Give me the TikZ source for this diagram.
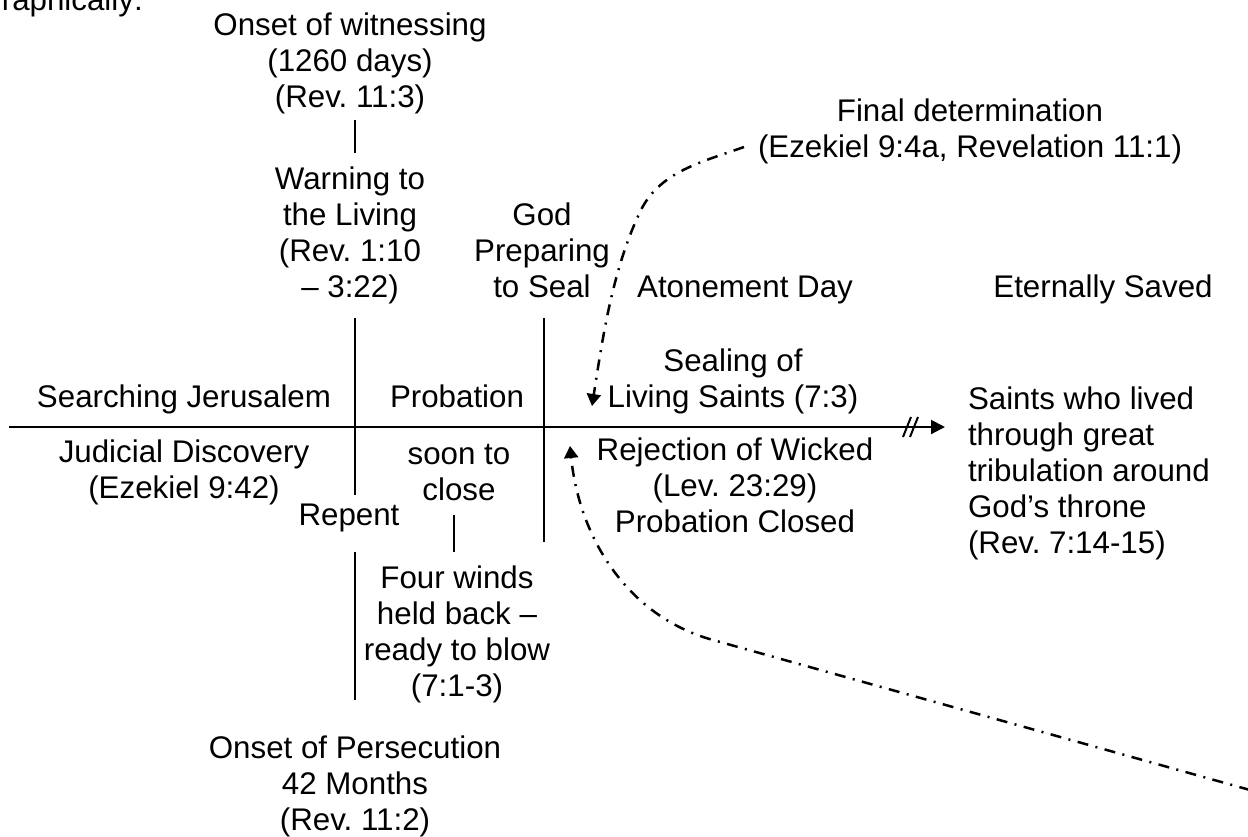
\documentclass[tikz,border=0pt]{standalone}
\usepackage{fontspec}
\setmainfont{Liberation Sans}
\usetikzlibrary{arrows.meta}
\frenchspacing
\begin{document}
\begin{tikzpicture}[x=1pt,y=-1pt,
  lbl/.style={font=\fontsize{31.3}{36}\selectfont\frenchspacing, inner sep=0pt, outer sep=0pt, align=center, anchor=base},
  lblleft/.style={lbl, align=left, anchor=base west},
  rule/.style={line width=2pt},
  dd/.style={line width=2.5pt, dash pattern=on 11pt off 7.5pt on 2pt off 7.5pt, -{Triangle[width=14pt,length=12pt]}}
]
\useasboundingbox (0,0) rectangle (1248,836);

% labels (anchor = baseline of the last line)
\node[lblleft] (graph) at (-22.5,10) {Graphically:};
\node[lbl] (witness) at (350,107) {Onset of witnessing\\(1260 days)\\(Rev. 11:3)};
\node[lbl] (warning) at (350,297) {Warning to\\the Living\\(Rev. 1:10\\– 3:22)};
\node[lbl] (god) at (542,297) {God\\Preparing\\to Seal};
\node[lbl] (atone) at (745,297) {Atonement Day};
\node[lbl] (eternal) at (1103,297) {Eternally Saved};
\node[lbl] (final) at (970,157) {Final determination\\(Ezekiel 9:4a, Revelation 11:1)};
\node[lbl] (sealing) at (733,407) {Sealing of\\Living Saints (7:3)};
\node[lbl] (search) at (184,407) {Searching Jerusalem};
\node[lbl] (probation) at (457,407) {Probation};
\node[lbl] (judicial) at (184,498) {Judicial Discovery\\(Ezekiel 9:42)};
\node[lbl] (soon) at (459,500) {soon to\\close};
\node[lbl] (rejection) at (735,532) {Rejection of Wicked\\(Lev. 23:29)\\Probation Closed};
\node[lblleft] (saints) at (968,553) {Saints who lived\\through great\\tribulation around\\God’s throne\\(Rev. 7:14-15)};
\node[lbl] (repent) at (349,525) {Repent};
\node[lbl] (winds) at (457,696) {Four winds\\held back –\\ready to blow\\(7:1-3)};
\node[lbl] (persec) at (355,830) {Onset of Persecution\\42 Months\\(Rev. 11:2)};

% axis
\coordinate (axL) at (9,427);
\coordinate (axR) at (945,427);
\draw[rule,-{Triangle[width=14pt,length=14pt]}] (axL) -- (axR);
\coordinate (b1a) at (903,437); \coordinate (b1b) at (911,417);
\coordinate (b2a) at (910,437); \coordinate (b2b) at (918,417);
\draw[rule] (b1a) -- (b1b);
\draw[rule] (b2a) -- (b2b);

% vertical rules
\coordinate (v1a) at (355,120); \coordinate (v1b) at (355,153);
\coordinate (v2a) at (355,318); \coordinate (v2b) at (355,495);
\coordinate (v3a) at (355,552); \coordinate (v3b) at (355,700);
\coordinate (v4a) at (544,318); \coordinate (v4b) at (544,542);
\coordinate (v5a) at (454,515); \coordinate (v5b) at (454,552);
\draw[rule] (v1a) -- (v1b);
\draw[rule] (v2a) -- (v2b);
\draw[rule] (v3a) -- (v3b);
\draw[rule] (v4a) -- (v4b);
\draw[rule] (v5a) -- (v5b);

% dash-dot arrows
\coordinate (fdStart) at (744,147);
\coordinate (fdMid) at (640,212);
\coordinate (fdEnd) at (592,406);
\draw[dd] (fdStart) .. controls (702,162) and (659,171.5) .. (fdMid)
  .. controls (612,270.5) and (602,342) .. (fdEnd);

\coordinate (pcStart) at (1250,790);
\coordinate (pcMid) at (713,640);
\coordinate (pcEnd) at (570,446);
\draw[dd] (pcStart) -- (pcMid) .. controls (626,616) and (579,536) .. (pcEnd);
\end{tikzpicture}
\end{document}
